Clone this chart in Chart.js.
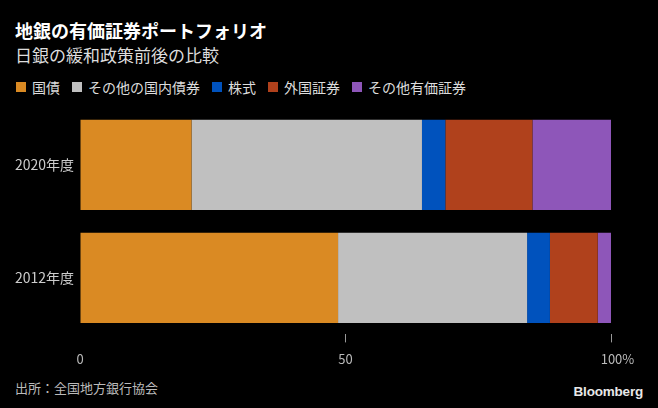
<!DOCTYPE html>
<html>
<head>
<meta charset="utf-8">
<script src="https://cdn.jsdelivr.net/npm/chart.js@4.4.1/dist/chart.umd.min.js"></script>
<style>
    body { margin: 0; background: #000; width: 658px; height: 408px; overflow: hidden; position: relative;
           font-family: "Noto Sans CJK JP", "Noto Sans", sans-serif; }
    .title { position: absolute; left: 15px; top: 19px; font-size: 18px; line-height: 22px; font-weight: bold; color: #fff; }
    .subtitle { position: absolute; left: 15px; top: 44px; font-size: 17px; line-height: 21px; color: #ddd; }
    #legend { position: absolute; left: 16px; top: 78px; display: flex; font-size: 14px; line-height: 18px; color: #ddd; }
    .legend-item { display: flex; align-items: center; margin-right: 12px; }
    .legend-box { width: 10px; height: 10px; margin-right: 6px; }
    .source { position: absolute; left: 15px; top: 379px; font-size: 13px; line-height: 18px; color: #bbb; }
    .logo { position: absolute; right: 15px; top: 383px; font-family: "Liberation Sans", Arial, sans-serif;
            font-size: 13.5px; line-height: 18px; font-weight: bold; color: #e8e8e8; letter-spacing: -0.2px; }
    .chart-wrap { position: absolute; left: 0; top: 94px; width: 658px; height: 282px; }
</style>
</head>
<body>
<div class="title">地銀の有価証券ポートフォリオ</div>
<div class="subtitle">日銀の緩和政策前後の比較</div>
<div id="legend"></div>
<div class="chart-wrap"><canvas id="chart"></canvas></div>
<div class="source">出所：全国地方銀行協会</div>
<div class="logo">Bloomberg</div>

<script>
// ─── Data ────────────────────────────────────────────────────────
const categories = ["2020年度", "2012年度"];
const seriesNames = ["国債", "その他の国内債券", "株式", "外国証券", "その他有価証券"];
const seriesColors = ["#da8a23", "#c0c0c0", "#0052bd", "#b0411c", "#8e56b9"];
const govBonds = [21.0, 48.6];
const otherDomesticBonds = [43.4, 35.6];
const stocks = [4.4, 4.3];
const foreignSecurities = [16.4, 9.0];
const otherSecurities = [14.8, 2.5];
const tickValues = [0, 50, 100];
const tickLabels = ["0", "50", "100%"];

const seriesValues = [govBonds, otherDomesticBonds, stocks, foreignSecurities, otherSecurities];

// ─── Legend ──────────────────────────────────────────────────────
const legendDiv = document.getElementById("legend");
seriesNames.forEach((name, i) => {
    const item = document.createElement("div");
    item.className = "legend-item";
    item.innerHTML = `<span class="legend-box" style="background:${seriesColors[i]}"></span><span>${name}</span>`;
    legendDiv.appendChild(item);
});

// ─── Chart ───────────────────────────────────────────────────────
const ctx = document.getElementById("chart").getContext("2d");
new Chart(ctx, {
    type: "bar",
    data: {
        labels: categories,
        datasets: seriesNames.map((name, i) => ({
            label: name,
            data: seriesValues[i],
            backgroundColor: seriesColors[i],
            borderWidth: 0,
            barPercentage: 0.8,
            categoryPercentage: 1.0,
        }))
    },
    options: {
        indexAxis: "y",
        responsive: true,
        maintainAspectRatio: false,
        animation: false,
        layout: { padding: { top: 9, right: 47, left: 0, bottom: 0 } },
        plugins: {
            legend: { display: false },
            tooltip: { enabled: false }
        },
        scales: {
            x: {
                stacked: true,
                min: 0,
                max: 100,
                afterBuildTicks: scale => { scale.ticks = tickValues.map(v => ({ value: v })); },
                ticks: {
                    color: "#bbb",
                    font: { family: "'Noto Sans CJK JP', sans-serif", size: 13 },
                    padding: 9,
                    maxRotation: 0,
                    callback: value => {
                        const i = tickValues.indexOf(value);
                        const label = i >= 0 ? tickLabels[i] : "";
                        return i === tickValues.length - 1 ? "\u2002\u2002" + label : label;
                    }
                },
                grid: {
                    drawOnChartArea: false,
                    drawTicks: true,
                    tickLength: 8,
                    color: c => (c.tick && c.tick.value === 0) ? "rgba(0,0,0,0)" : "#999"
                },
                border: { display: false }
            },
            y: {
                stacked: true,
                afterFit: scale => { scale.width = 80; },
                ticks: {
                    color: "#ccc",
                    font: { family: "'Noto Sans CJK JP', sans-serif", size: 14 },
                    padding: 6
                },
                grid: { display: false, drawTicks: false },
                border: { display: false }
            }
        }
    }
});
</script>
</body>
</html>
